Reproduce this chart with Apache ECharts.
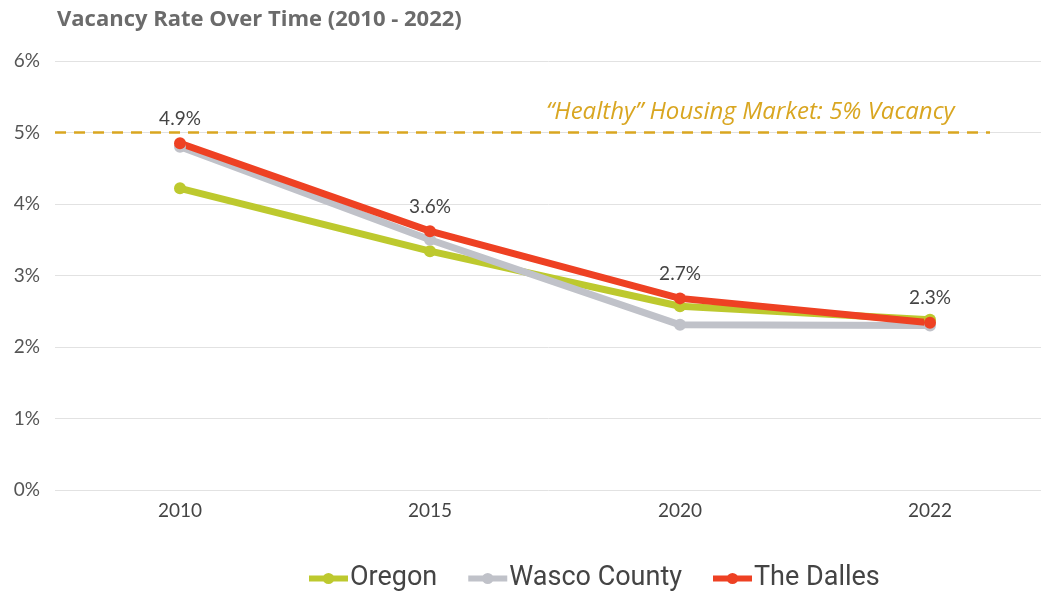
<!DOCTYPE html>
<html>
<head>
<meta charset="utf-8">
<script src="https://cdn.jsdelivr.net/npm/echarts@6/dist/echarts.min.js"></script>
<style>
  html, body { margin: 0; padding: 0; background: #fff; }
  #chart { width: 1041px; height: 593px; }
</style>
</head>
<body>
<div id="chart"></div>
<script>
// data
var years = ['2010', '2015', '2020', '2022'];
var oregon = [4.22, 3.34, 2.57, 2.38];
var wasco = [4.80, 3.50, 2.31, 2.30];
var theDalles = [4.85, 3.62, 2.68, 2.34];
var dallesLabels = ['4.9%', '3.6%', '2.7%', '2.3%'];
var healthyRate = 5;

function chartVacancy() {
    var myChart = echarts.init(document.getElementById('chart'));
    var lineSeries = function (name, color, data) {
        return {
            name: name,
            type: 'line',
            data: data,
            symbol: 'circle',
            symbolSize: 12,
            lineStyle: { width: 7, color: color },
            itemStyle: { color: color },
            emphasis: { disabled: true }
        };
    };
    var dalles = lineSeries('The Dalles', '#EE4123', theDalles);
    dalles.label = {
        show: true,
        position: 'top',
        distance: 9,
        fontFamily: 'Lato',
        fontSize: 19,
        color: '#444',
        formatter: function (p) { return dallesLabels[p.dataIndex]; }
    };
    // dashed "healthy market" reference
    dalles.markLine = {
        silent: true,
        symbol: 'none',
        label: { show: false },
        lineStyle: { color: '#D9A621', width: 2.5, type: [11, 8] },
        data: [[{ yAxis: healthyRate, x: 55 }, { yAxis: healthyRate, x: 990 }]]
    };

    var options = {
        animation: false,
        title: {
            text: 'Vacancy Rate Over Time (2010 - 2022)',
            left: 52,
            top: 4,
            textStyle: { fontFamily: 'Open Sans', fontWeight: 'bold', fontSize: 22, color: '#6b6b6b' }
        },
        legend: {
            top: 565,
            left: 306,
            padding: 0,
            itemWidth: 39,
            itemHeight: 14,
            itemGap: 28,
            lineStyle: { width: 6 },
            textStyle: { fontFamily: 'Roboto', fontSize: 27, color: '#444', padding: [0, 0, 0, -3] },
            data: ['Oregon', 'Wasco County', 'The Dalles']
        },
        graphic: [{
            type: 'text',
            left: 546,
            top: 100,
            style: {
                text: '\u201CHealthy\u201D Housing Market: 5% Vacancy',
                font: 'italic 24px "Open Sans"',
                fill: '#D9A621'
            }
        }],
        grid: { left: 55, top: 61, width: 1000, height: 429, outerBoundsMode: 'none' },
        xAxis: {
            type: 'category',
            data: years,
            axisLine: { show: false },
            axisTick: { show: false },
            axisLabel: { fontFamily: 'Lato', fontSize: 19, color: '#444', margin: 11 }
        },
        yAxis: {
            type: 'value',
            min: 0,
            max: 6,
            interval: 1,
            axisLabel: { formatter: '{value}%', fontFamily: 'Lato', fontSize: 19, color: '#555', margin: 15 },
            splitLine: { lineStyle: { color: '#e2e2e2', width: 1 } }
        },
        series: [
            lineSeries('Oregon', '#BDC92E', oregon),
            lineSeries('Wasco County', '#C0C2C9', wasco),
            dalles
        ]
    };
    myChart.setOption(options);
}
chartVacancy();
</script>
</body>
</html>
